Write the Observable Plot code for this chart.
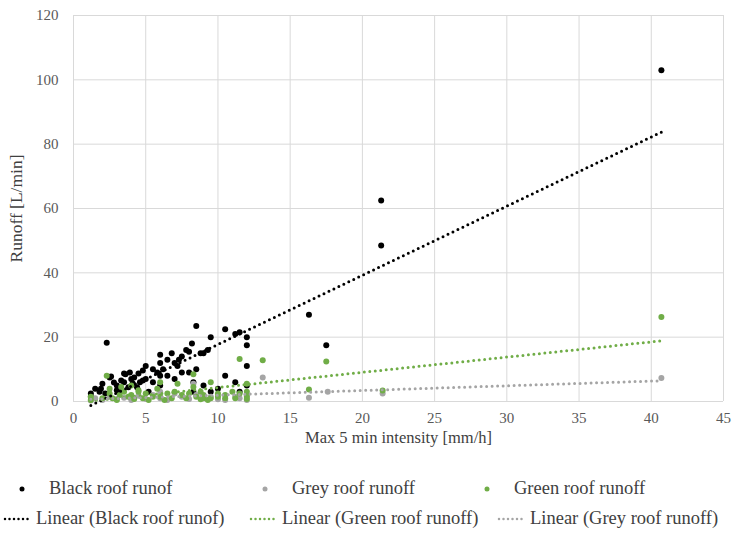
<!DOCTYPE html>
<html>
<head>
<meta charset="utf-8">
<script src="https://cdn.jsdelivr.net/npm/d3@7"></script>
<script src="https://cdn.jsdelivr.net/npm/@observablehq/plot@0.6"></script>
<style>
  html, body { margin: 0; padding: 0; background: #fff; }
  #wrap { position: relative; width: 733px; height: 538px; font-family: "Liberation Serif", "Times New Roman", Tinos, "DejaVu Serif", serif; color: #404040; }
  .leg { position: absolute; display: flex; align-items: center; font-size: 18.5px; white-space: nowrap; }
</style>
</head>
<body>
<div id="wrap"><div id="chart"></div></div>
<script>
// Black roof runoff (x = max 5 min intensity [mm/h], y = runoff [L/min])
const blackX = [1.2,1.2,1.5,1.8,1.9,2.0,2.2,2.3,2.5,2.6,2.8,3.0,3.0,3.2,3.3,3.5,3.5,3.6,3.8,3.9,4.0,4.1,4.2,4.4,4.5,4.6,4.8,4.8,5.0,5.0,5.2,5.5,5.5,5.8,6.0,6.0,6.0,6.0,6.2,6.5,6.5,6.8,7.0,7.0,7.2,7.3,7.5,7.5,7.8,8.0,8.0,8.2,8.3,8.3,8.5,8.5,8.8,9.0,9.0,9.3,9.5,9.5,10.0,10.5,10.5,11.2,11.2,11.5,11.5,12.0,12.0,12.0,12.0,16.3,17.5,21.3,21.3,40.7];
const blackY = [2.5,1.5,4.0,3.0,4.0,5.5,2.5,18.3,7.5,7.8,5.9,5.0,3.5,3.0,6.5,8.7,6.0,8.5,4.4,9.0,7.0,5.6,7.5,4.4,8.7,6.0,9.6,6.5,11.0,7.0,3.0,6.0,10.0,9.0,14.5,12.0,8.0,5.0,10.0,13.0,8.0,15.0,12.0,7.0,11.0,13.0,14.0,9.0,16.0,15.5,9.0,18.0,6.0,3.0,23.5,10.0,15.0,15.0,5.0,16.0,20.0,3.0,4.0,22.5,8.0,21.0,6.0,21.5,3.0,20.0,17.5,11.0,5.0,27.0,17.5,62.5,48.5,103.0];
// Grey roof runoff
const greyX = [1.2,1.5,2.0,2.5,3.0,3.5,4.0,4.5,5.0,5.5,6.0,6.0,6.5,7.0,7.5,8.0,8.3,8.5,9.0,9.5,10.0,10.5,11.2,11.5,12.0,12.0,13.1,16.3,17.6,21.4,40.7];
const greyY = [0.3,1.0,0.5,1.5,0.8,1.2,0.5,1.8,0.8,2.0,1.0,3.0,0.5,2.5,1.5,0.8,5.5,2.0,1.2,1.5,0.7,0.5,1.5,1.0,2.0,0.5,7.5,1.2,3.0,2.5,7.3];
// Green roof runoff
const greenX = [1.2,1.2,2.0,2.3,2.5,2.5,2.7,3.0,3.2,3.3,3.5,3.8,4.0,4.0,4.2,4.5,4.5,4.8,5.0,5.2,5.5,5.8,6.0,6.0,6.3,6.5,6.8,7.0,7.2,7.5,7.8,8.0,8.3,8.3,8.5,8.8,8.8,9.0,9.0,9.3,9.5,9.5,10.0,10.0,10.5,10.5,11.0,11.2,11.5,11.5,12.0,12.0,12.0,12.0,13.1,16.3,17.5,21.4,40.7];
const greenY = [0.5,1.5,1.0,8.0,2.5,4.0,1.0,0.5,2.0,4.5,3.0,1.5,2.0,5.0,0.8,3.5,3.0,1.0,2.5,0.5,1.5,4.0,6.0,1.5,0.5,2.5,1.0,3.0,5.5,2.0,1.0,2.5,8.5,4.5,1.5,0.7,3.0,2.0,1.0,0.5,6.0,1.0,2.5,1.5,1.0,2.0,3.0,1.0,13.2,2.5,5.5,3.0,1.5,0.8,12.8,3.7,12.4,3.4,26.3];

const xTicks = [0,5,10,15,20,25,30,35,40,45];
const yTicks = [0,20,40,60,80,100,120];

const seriesNames = ["Black roof runof", "Grey roof runoff", "Green roof runoff"];
const trendNames = ["Linear (Black roof runof)", "Linear (Green roof runoff)", "Linear (Grey roof runoff)"];
const colors = {black: "#000000", grey: "#a5a5a5", green: "#70ad47"};

const toRows = (xs, ys, s) => xs.map((x, i) => ({x, y: ys[i], s}));
const black = toRows(blackX, blackY, "black");
const grey = toRows(greyX, greyY, "grey");
const green = toRows(greenX, greenY, "green");

// least-squares linear trend (like Excel's linear trendline), spanning the data's x extent
function fit(rows, s) {
  const mx = d3.mean(rows, d => d.x), my = d3.mean(rows, d => d.y);
  const b = d3.sum(rows, d => (d.x - mx) * (d.y - my)) / d3.sum(rows, d => (d.x - mx) ** 2);
  const a = my - b * mx;
  const [x0, x1] = d3.extent(rows, d => d.x);
  return [x0, x1].map(x => ({x, y: a + b * x, s}));
}
const trends = [fit(black, "black"), fit(green, "green"), fit(grey, "grey")];

const FONT = "'Liberation Serif', 'Times New Roman', Tinos, 'DejaVu Serif', serif";
const chart = Plot.plot({
  width: 733,
  height: 452,
  marginLeft: 73,
  marginRight: 10,
  marginTop: 15,
  marginBottom: 51,
  style: {fontFamily: FONT, fontSize: "15px", color: "#595959", background: "#fff"},
  x: {domain: [0, 45], ticks: xTicks, label: null},
  y: {domain: [0, 120], ticks: yTicks, label: null},
  marks: [
    Plot.gridX(xTicks, {stroke: "#d9d9d9", strokeOpacity: 1, strokeWidth: 1}),
    Plot.gridY(yTicks, {stroke: "#d9d9d9", strokeOpacity: 1, strokeWidth: 1}),
    Plot.axisX(xTicks, {tickSize: 0, tickPadding: 11, fill: "#595959", fontSize: 15, fontFamily: FONT}),
    Plot.axisY(yTicks, {tickSize: 0, tickPadding: 15, fill: "#595959", fontSize: 15, fontFamily: FONT}),
    Plot.text(["Max 5 min intensity [mm/h]"], {frameAnchor: "bottom", textAnchor: "middle", lineAnchor: "middle", dy: 36, fill: "#404040", fontSize: 16.5, fontFamily: FONT}),
    Plot.text(["Runoff [L/min]"], {frameAnchor: "left", textAnchor: "middle", lineAnchor: "middle", dx: -57, rotate: -90, fill: "#404040", fontSize: 17.5, fontFamily: FONT}),
    Plot.dot(black, {x: "x", y: "y", r: 3, fill: colors.black, stroke: "none"}),
    Plot.dot(grey, {x: "x", y: "y", r: 3, fill: colors.grey, stroke: "none"}),
    Plot.dot(green, {x: "x", y: "y", r: 3, fill: colors.green, stroke: "none"}),
    ...trends.map(t => Plot.line(t, {x: "x", y: "y", stroke: colors[t[0].s], strokeWidth: 3, strokeDasharray: "0,5.5", strokeLinecap: "round"}))
  ]
});
document.getElementById("chart").appendChild(chart);

// Legend (HTML, below the chart)
const wrap = document.getElementById("wrap");
const dotSvg = c => `<svg width="10" height="10"><circle cx="5" cy="5" r="2.5" fill="${c}"/></svg>`;
const lineSvg = c => `<svg width="30" height="10"><line x1="2" y1="5" x2="28" y2="5" stroke="${c}" stroke-width="2.5" stroke-dasharray="0,4.5" stroke-linecap="round"/></svg>`;
const row1 = [{n: seriesNames[0], c: colors.black, left: 17}, {n: seriesNames[1], c: colors.grey, left: 260}, {n: seriesNames[2], c: colors.green, left: 482}];
const row2 = [{n: trendNames[0], c: colors.black, left: 3}, {n: trendNames[1], c: colors.green, left: 249}, {n: trendNames[2], c: colors.grey, left: 497}];
row1.forEach(d => {
  const el = document.createElement("div");
  el.className = "leg";
  el.style.left = d.left + "px"; el.style.top = "478px";
  el.innerHTML = dotSvg(d.c) + `<span style="margin-left:22px">${d.n}</span>`;
  wrap.appendChild(el);
});
row2.forEach(d => {
  const el = document.createElement("div");
  el.className = "leg";
  el.style.left = d.left + "px"; el.style.top = "508px";
  el.innerHTML = lineSvg(d.c) + `<span style="margin-left:3px">${d.n}</span>`;
  wrap.appendChild(el);
});
</script>
</body>
</html>
